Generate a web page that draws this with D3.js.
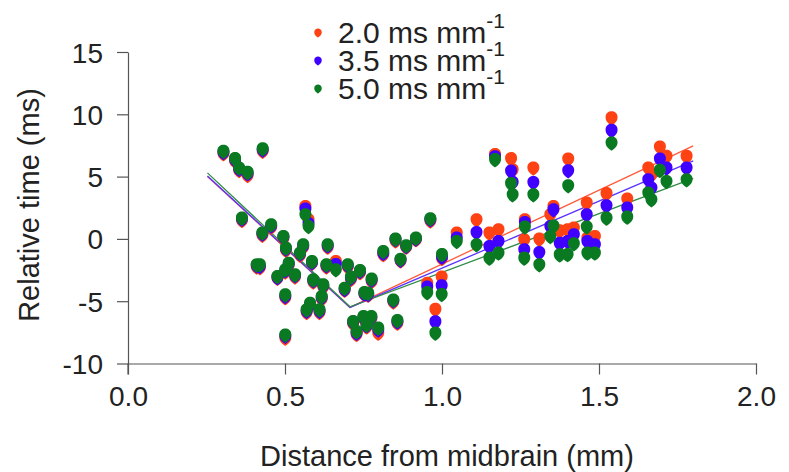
<!DOCTYPE html>
<html>
<head>
<meta charset="utf-8">
<script src="https://cdn.jsdelivr.net/npm/d3@7"></script>
<style>
  body { margin: 0; background: #fff; }
  svg text { font-family: "Liberation Sans", Arial, sans-serif; fill: #222; }
</style>
</head>
<body>
<svg id="chart" width="789" height="472"></svg>
<script>
// distance from midbrain (mm), one entry per cell
var distance = [0.304, 0.341, 0.354, 0.363, 0.381, 0.41, 0.42, 0.428, 0.429, 0.456,
  0.476, 0.495, 0.501, 0.501, 0.501, 0.503, 0.512, 0.532, 0.548, 0.558,
  0.565, 0.569, 0.575, 0.58, 0.586, 0.59, 0.61, 0.617, 0.622, 0.632,
  0.636, 0.662, 0.69, 0.70, 0.71, 0.717, 0.728, 0.739, 0.75, 0.753,
  0.76, 0.765, 0.775, 0.776, 0.797, 0.813, 0.845, 0.852, 0.858, 0.868,
  0.886, 0.917, 0.953, 0.963, 0.979, 0.999, 1.0, 1.047, 1.11, 1.151,
  1.169, 1.18, 1.22, 1.225, 1.262, 1.264, 1.291, 1.31, 1.345, 1.355,
  1.375, 1.40, 1.402, 1.42, 1.461, 1.463, 1.487, 1.524, 1.54, 1.59,
  1.657, 1.667, 1.694, 1.715, 1.779];

// relative time (ms) at 2.0 ms/mm
var time20 = [6.8, 6.2, 5.45, 1.45, 5.05, -2.3, -2.35, 0.25, 7.0, 0.9,
  -3.2, 0.0, -2.7, -4.75, -8.0, -0.95, -2.15, -3.1, -1.35, -0.7,
  2.55, -5.95, 1.5, -5.4, -2.0, -3.5, -5.95, -4.85, -3.9, -2.3,
  -0.7, -1.85, -4.15, -2.3, -3.3, -6.85, -7.7, -2.75, -6.45, -4.5,
  -7.1, -4.55, -6.45, -3.45, -7.6, -1.3, -5.1, -0.2, -6.8, -1.8,
  -0.7, -0.1, -3.6, 1.4, -5.7, -3.1, -1.6, 0.43, 1.5, 0.42,
  6.72, 0.69, 6.4, 5.5, -0.11, 1.5, 5.65, -0.06, 1.9, 2.56,
  0.6, 0.69, 6.37, 0.83, 2.84, 0.0, 0.15, 3.59, 9.67, 3.16,
  5.65, 5.1, 7.34, 6.58, 6.58];

// relative time (ms) at 3.5 ms/mm
var time35 = [6.9, 6.3, 5.55, 1.55, 5.2, -2.2, -2.25, 0.35, 7.1, 1.0,
  -3.15, 0.1, -2.6, -4.65, -7.85, -0.85, -2.05, -3.0, -1.25, -0.6,
  2.35, -5.85, 1.2, -5.3, -1.95, -3.4, -5.85, -4.75, -3.8, -2.2,
  -0.6, -2.1, -4.1, -2.2, -3.2, -6.75, -7.6, -2.65, -6.35, -4.45,
  -7.0, -4.5, -6.35, -3.35, -7.35, -1.2, -5.0, -0.1, -6.7, -1.75,
  -0.65, -0.05, -3.9, 1.5, -6.7, -3.8, -1.5, 0.02, 0.47, -0.65,
  6.55, -0.25, 5.4, 4.5, -0.92, 1.28, 4.49, -1.13, 0.96, 2.3,
  -0.4, -0.25, 5.43, 0.29, 1.9, -0.25, -0.51, 2.62, 8.67, 2.44,
  4.71, 4.04, 6.37, 5.65, 5.65];

// relative time (ms) at 5.0 ms/mm
var time50 = [7.0, 6.4, 5.65, 1.63, 5.3, -2.12, -2.12, 0.43, 7.2, 1.09,
  -3.06, 0.15, -2.52, -4.53, -7.75, -0.78, -1.99, -2.93, -1.18, -0.51,
  1.9, -5.74, 0.96, -5.2, -1.86, -3.33, -5.74, -4.67, -3.73, -2.12,
  -0.51, -2.52, -4.0, -2.12, -3.11, -6.68, -7.48, -2.58, -6.28, -4.35,
  -6.95, -4.4, -6.28, -3.27, -7.2, -1.05, -4.94, -0.06, -6.6, -1.67,
  -0.59, 0.02, -4.35, 1.58, -7.6, -4.5, -1.3, -0.25, -0.51, -1.58,
  6.32, -1.18, 4.4, 3.5, -1.58, 0.91, 3.5, -2.12, 0.15, 1.0,
  -1.32, -1.3, 4.23, -0.43, 0.91, -1.18, -1.18, 1.63, 7.66, 1.71,
  3.64, 3.1, 5.46, 4.57, 4.71];

// two-segment fits (start, break, end)
var fitX = [0.253, 0.707, 1.8];
var fit20 = [5.0, -5.5, 7.47];
var fit35 = [5.05, -5.5, 6.26];
var fit50 = [5.3, -5.45, 4.85];

var xTicks = [0, 0.5, 1.0, 1.5, 2.0];
var yTicks = [-10, -5, 0, 5, 10, 15];
var legendLabels = ["2.0 ms mm", "3.5 ms mm", "5.0 ms mm"];

var colors = ["#ff4214", "#4000ff", "#0a7a22"];
var lineColors = ["#ff5a3a", "#5a33ff", "#2f8c45"];

var svg = d3.select("#chart");

var x = d3.scaleLinear().domain([0, 2]).range([128, 756]);
var y = d3.scaleLinear().domain([-10, 15]).range([363.5, 52]);

// axes
var xAxis = d3.axisBottom(x).tickValues(xTicks).tickSizeInner(11).tickSizeOuter(0)
  .tickPadding(10).tickFormat(d3.format(".1f"));
var yAxis = d3.axisLeft(y).tickValues(yTicks).tickSizeInner(11).tickSizeOuter(0)
  .tickPadding(14).tickFormat(function(d) { return String(d); });

var gx = svg.append("g").attr("transform", "translate(0," + y(-10) + ")").call(xAxis);
var gy = svg.append("g").attr("transform", "translate(" + x(0) + ",0)").call(yAxis);

[gx, gy].forEach(function(g) {
  g.select(".domain").attr("stroke", "#555").attr("stroke-width", 1.2);
  g.selectAll(".tick line").attr("stroke", "#555").attr("stroke-width", 1.2);
  g.selectAll(".tick text").attr("font-size", 28).attr("fill", "#222")
    .style("font-family", "'Liberation Sans', Arial, sans-serif");
});
gy.selectAll(".tick text").attr("dy", "0.36em");
gx.selectAll(".tick text").attr("dy", "0.78em");
// small vertical stub of y axis below the x axis line
svg.append("line").attr("x1", x(0)).attr("x2", x(0))
  .attr("y1", y(-10)).attr("y2", y(-10) + 11)
  .attr("stroke", "#555").attr("stroke-width", 1.2);

// titles
svg.append("text").attr("x", 447).attr("y", 466).attr("text-anchor", "middle")
  .attr("font-size", 29).text("Distance from midbrain (mm)");
svg.append("text").attr("transform", "translate(39,205) rotate(-90)")
  .attr("text-anchor", "middle").attr("font-size", 29).text("Relative time (ms)");

// fitted lines
var fits = [fit20, fit35, fit50];
var line = d3.line().x(function(d) { return x(d[0]); }).y(function(d) { return y(d[1]); });
fits.forEach(function(f, i) {
  svg.append("path")
    .datum(fitX.map(function(v, j) { return [v, f[j]]; }))
    .attr("d", line)
    .attr("fill", "none")
    .attr("stroke", lineColors[i])
    .attr("stroke-width", 1.3);
});

// drop-ish marker shape
function blob(s) {
  return "M" + (-5 * s) + "," + (-1 * s) +
    " C" + (-5 * s) + "," + (-7.5 * s) + " " + (5 * s) + "," + (-7.5 * s) + " " + (5 * s) + "," + (-1 * s) +
    " C" + (5 * s) + "," + (3 * s) + " " + (1.5 * s) + "," + (5 * s) + " 0," + (6 * s) +
    " C" + (-1.5 * s) + "," + (5 * s) + " " + (-5 * s) + "," + (3 * s) + " " + (-5 * s) + "," + (-1 * s) + " Z";
}

var series = [time20, time35, time50];
series.forEach(function(vals, i) {
  svg.append("g").selectAll("path")
    .data(vals)
    .enter().append("path")
    .attr("d", blob(1.2))
    .attr("transform", function(d, j) { return "translate(" + x(distance[j]) + "," + y(d) + ")"; })
    .attr("fill", colors[i]);
});

// legend
var legendY = [33, 61, 89];
legendLabels.forEach(function(lbl, i) {
  svg.append("path").attr("d", blob(0.75))
    .attr("transform", "translate(318," + legendY[i] + ")")
    .attr("fill", colors[i]);
  var t = svg.append("text").attr("x", 338).attr("y", legendY[i] + 10)
    .attr("font-size", 30).text(lbl);
  t.append("tspan").attr("font-size", 21).attr("dy", -15).text("-1");
});
</script>
</body>
</html>
